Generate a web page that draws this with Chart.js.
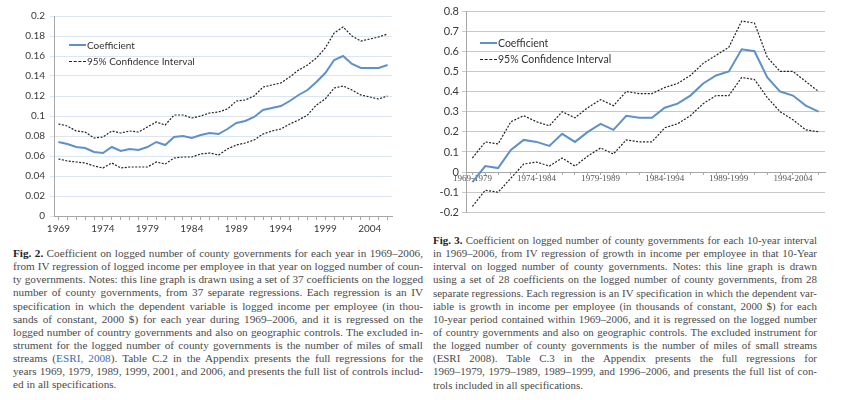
<!DOCTYPE html>
<html>
<head>
<meta charset="utf-8">
<script src="https://cdn.jsdelivr.net/npm/chart.js@4"></script>
<style>
  body { margin: 0; background: #fff; width: 856px; height: 400px; position: relative; overflow: hidden; }
  .box { position: absolute; }
  .legend { position: absolute; font-family: Lato, sans-serif; color: #333; z-index: 2; }
  .legend div { position: absolute; white-space: nowrap; display: flex; align-items: center; }
  .legend span.l { display: inline-block; width: 17px; margin-right: 1px; }
  .solid { border-top: 2px solid #5f91c9; }
  .dash { border-top: 1.3px dashed #222; }
  .cap { position: absolute; font-family: "Liberation Serif", serif; color: #4a4a4a; }
  .cap div { white-space: nowrap; text-align: justify; text-align-last: justify; height: 13.15px; line-height: 13.15px; }
  .cap div.last { text-align-last: left; }
  .cap b { color: #222; }
  .cap .ref { color: #3d6db3; }
</style>
</head>
<body>
<div class="box" style="left:0;top:0;width:400px;height:240px"><canvas id="fig2"></canvas></div>
<div class="box" style="left:420px;top:0;width:436px;height:222px"><canvas id="fig3"></canvas></div>

<div class="legend" style="left:69px;top:0;font-size:10px">
  <div style="top:39px"><span class="l solid"></span>Coefficient</div>
  <div style="top:55px"><span class="l dash"></span>95% Confidence Interval</div>
</div>
<div class="legend" style="left:480px;top:0;font-size:10.5px">
  <div style="top:37px"><span class="l solid"></span>Coefficient</div>
  <div style="top:53px"><span class="l dash"></span>95% Confidence Interval</div>
</div>

<div class="cap" id="cap2" style="left:13px;top:247px;width:410px;font-size:11px">
  <div><b>Fig. 2.</b> Coefficient on logged number of county governments for each year in 1969–2006,</div>
  <div>from IV regression of logged income per employee in that year on logged number of coun-</div>
  <div>ty governments. Notes: this line graph is drawn using a set of 37 coefficients on the logged</div>
  <div>number of county governments, from 37 separate regressions. Each regression is an IV</div>
  <div>specification in which the dependent variable is logged income per employee (in thou-</div>
  <div>sands of constant, 2000 $) for each year during 1969–2006, and it is regressed on the</div>
  <div>logged number of country governments and also on geographic controls. The excluded in-</div>
  <div>strument for the logged number of county governments is the number of miles of small</div>
  <div>streams (<span class="ref">ESRI, 2008</span>). Table C.2 in the Appendix presents the full regressions for the</div>
  <div>years 1969, 1979, 1989, 1999, 2001, and 2006, and presents the full list of controls includ-</div>
  <div class="last">ed in all specifications.</div>
</div>

<div class="cap" id="cap3" style="left:433px;top:234px;width:384px;font-size:11px">
  <div><b>Fig. 3.</b> Coefficient on logged number of county governments for each 10-year interval</div>
  <div>in 1969–2006, from IV regression of growth in income per employee in that 10-Year</div>
  <div>interval on logged number of county governments. Notes: this line graph is drawn</div>
  <div>using a set of 28 coefficients on the logged number of county governments, from 28</div>
  <div>separate regressions. Each regression is an IV specification in which the dependent var-</div>
  <div>iable is growth in income per employee (in thousands of constant, 2000 $) for each</div>
  <div>10-year period contained within 1969–2006, and it is regressed on the logged number</div>
  <div>of country governments and also on geographic controls. The excluded instrument for</div>
  <div>the logged number of county governments is the number of miles of small streams</div>
  <div>(ESRI 2008). Table C.3 in the Appendix presents the full regressions for</div>
  <div>1969–1979, 1979–1989, 1989–1999, and 1996–2006, and presents the full list of con-</div>
  <div class="last">trols included in all specifications.</div>
</div>

<script>
// Fig. 2 : yearly coefficients 1969-2006
const years = ['1969','1970','1971','1972','1973','1974','1975','1976','1977','1978',
  '1979','1980','1981','1982','1983','1984','1985','1986','1987','1988',
  '1989','1990','1991','1992','1993','1994','1995','1996','1997','1998',
  '1999','2000','2001','2002','2003','2004','2005','2006'];
const yearTicks = ['1969','1974','1979','1984','1989','1994','1999','2004'];
const coefYear = [0.074,0.072,0.069,0.068,0.064,0.063,0.069,0.065,0.067,0.066,
  0.069,0.074,0.071,0.079,0.080,0.078,0.081,0.083,0.082,0.087,
  0.093,0.095,0.099,0.106,0.108,0.110,0.115,0.121,0.126,0.134,
  0.143,0.156,0.160,0.152,0.148,0.148,0.148,0.151];
const upperYear = [0.092,0.090,0.085,0.084,0.078,0.079,0.085,0.083,0.085,0.084,
  0.089,0.094,0.091,0.101,0.101,0.098,0.100,0.103,0.104,0.107,
  0.115,0.116,0.120,0.129,0.131,0.133,0.139,0.146,0.151,0.158,
  0.168,0.183,0.189,0.180,0.175,0.177,0.179,0.182];
const lowerYear = [0.057,0.055,0.054,0.053,0.050,0.048,0.053,0.048,0.049,0.049,
  0.049,0.054,0.052,0.058,0.059,0.059,0.062,0.063,0.061,0.067,
  0.071,0.073,0.076,0.082,0.085,0.087,0.092,0.096,0.101,0.111,
  0.117,0.128,0.130,0.126,0.121,0.119,0.117,0.120];

// Fig. 3 : 10-year interval coefficients
const intervals = ['1969-1979','1970-1980','1971-1981','1972-1982','1973-1983','1974-1984',
  '1975-1985','1976-1986','1977-1987','1978-1988','1979-1989','1980-1990','1981-1991',
  '1982-1992','1983-1993','1984-1994','1985-1995','1986-1996','1987-1997','1988-1998',
  '1989-1999','1990-2000','1991-2001','1992-2002','1993-2003','1994-2004','1995-2005','1996-2006'];
const intervalTicks = ['1969-1979','1974-1984','1979-1989','1984-1994','1989-1999','1994-2004'];
const coefInterval = [-0.05,0.03,0.02,0.11,0.16,0.15,0.13,0.19,0.15,0.20,0.24,0.21,0.28,0.27,
  0.27,0.32,0.34,0.38,0.44,0.48,0.50,0.61,0.60,0.47,0.40,0.38,0.33,0.30];
const upperInterval = [0.07,0.15,0.14,0.25,0.28,0.25,0.23,0.30,0.27,0.32,0.36,0.33,0.40,0.39,
  0.39,0.42,0.44,0.48,0.54,0.58,0.62,0.75,0.74,0.57,0.50,0.50,0.45,0.40];
const lowerInterval = [-0.17,-0.09,-0.10,-0.03,0.04,0.05,0.03,0.07,0.03,0.08,0.12,0.09,0.16,0.15,
  0.15,0.22,0.24,0.28,0.34,0.38,0.38,0.47,0.46,0.37,0.30,0.26,0.21,0.20];

// shrink each caption so its widest line just fits, then justify
function fitCaption(id, width) {
  const box = document.getElementById(id);
  const rows = box.querySelectorAll('div');
  let widest = 0;
  rows.forEach(r => {
    const s = document.createElement('span');
    s.innerHTML = r.innerHTML;
    s.style.cssText = 'position:absolute;visibility:hidden;white-space:nowrap';
    box.appendChild(s);
    widest = Math.max(widest, s.offsetWidth);
    box.removeChild(s);
  });
  const size = parseFloat(box.style.fontSize);
  box.style.fontSize = (size * width / widest * 0.995).toFixed(2) + 'px';
}
fitCaption('cap2', 410);
fitCaption('cap3', 384);

const axisFont = { family: 'Lato', size: 10 };
const textColor = '#3a3a3a';

function lineSets(coef, upper, lower) {
  const dashed = {
    borderColor: '#222',
    borderWidth: 1.2,
    borderDash: [2, 1.5],
    pointRadius: 0,
    fill: false
  };
  return [
    { label: 'Coefficient', data: coef, borderColor: '#5f91c9', borderWidth: 2, pointRadius: 0, fill: false },
    Object.assign({ label: '95% Confidence Interval', data: upper }, dashed),
    Object.assign({ label: '95% Confidence Interval (lower)', data: lower }, dashed)
  ];
}

new Chart(document.getElementById('fig2'), {
  type: 'line',
  data: { labels: years, datasets: lineSets(coefYear, upperYear, lowerYear) },
  options: {
    responsive: true,
    maintainAspectRatio: false,
    animation: false,
    layout: { padding: { top: 16, right: 8, left: 0, bottom: 0 } },
    plugins: { legend: { display: false }, tooltip: { enabled: false } },
    scales: {
      x: {
        offset: true,
        afterFit: s => { s.height = 24; },
        border: { color: '#a6a6a6' },
        grid: { drawOnChartArea: false, tickLength: 4, color: '#a6a6a6' },
        ticks: {
          autoSkip: false, maxRotation: 0, padding: 3,
          color: textColor, font: axisFont,
          callback: function (v) {
            const lab = this.getLabelForValue(v);
            return yearTicks.includes(lab) ? lab : '';
          }
        }
      },
      y: {
        min: 0, max: 0.2,
        afterFit: s => { s.width = 54; },
        border: { color: '#a6a6a6' },
        grid: { color: '#dce6f1', tickLength: 4 },
        ticks: {
          stepSize: 0.02, padding: 5,
          color: textColor, font: axisFont,
          callback: v => String(+v.toFixed(2))
        }
      }
    }
  }
});

new Chart(document.getElementById('fig3'), {
  type: 'line',
  data: { labels: intervals, datasets: lineSets(coefInterval, upperInterval, lowerInterval) },
  options: {
    responsive: true,
    maintainAspectRatio: false,
    animation: false,
    layout: { padding: { top: 11, right: 31, left: 0, bottom: 7 } },
    plugins: { legend: { display: false }, tooltip: { enabled: false } },
    scales: {
      x: {
        position: { y: 0 },
        offset: true,
        afterFit: s => { s.height = 0; },
        border: { color: '#a6a6a6' },
        grid: { drawOnChartArea: false, tickLength: 2, color: '#a6a6a6' },
        ticks: {
          autoSkip: false, maxRotation: 0, padding: -1,
          color: '#555', font: { family: 'Liberation Serif', size: 9 },
          callback: function (v) {
            const lab = this.getLabelForValue(v);
            return intervalTicks.includes(lab) ? lab : '';
          }
        }
      },
      y: {
        min: -0.2, max: 0.8,
        afterFit: s => { s.width = 46; },
        border: { color: '#a6a6a6' },
        grid: { color: '#c8c8c8', tickLength: 4 },
        ticks: {
          stepSize: 0.1, padding: 3,
          color: textColor, font: { family: 'Lato', size: 11 },
          callback: v => String(+v.toFixed(1))
        }
      }
    }
  }
});
</script>
</body>
</html>
